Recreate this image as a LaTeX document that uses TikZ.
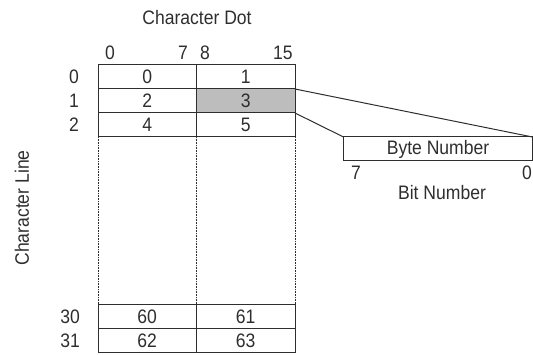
\documentclass[tikz,border=0pt]{standalone}
\usepackage{fontspec}
\setmainfont{Liberation Sans}[FakeStretch=0.9]
\usetikzlibrary{calc}
\definecolor{ink}{HTML}{2E2E2E}
\definecolor{shade}{HTML}{BDBDBD}
\tikzset{
  cell/.style={draw=ink, line width=1pt, minimum width=98.5pt, minimum height=24pt,
    inner sep=0pt, outer sep=0pt, text=ink},
  lbl/.style={text=ink, inner sep=0pt}
}

\begin{document}
\begin{tikzpicture}[x=1pt, y=-1pt, font=\fontsize{19.5}{21}\selectfont]
  \useasboundingbox (0,0) rectangle (533,355);
  % header
  \node[lbl] (dottitle) at (197,18) {Character Dot};
  \node[lbl] (bit0) at (110,53) {0};
  \node[lbl] (bit7) at (183,53) {7};
  \node[lbl] (bit8) at (205,53) {8};
  \node[lbl] (bit15) at (283,53) {15};
  \node[lbl, rotate=90] (linetitle) at (22,208) {Character Line};
  % row labels
  \node[lbl, anchor=east] (row0) at (79,77) {0};
  \node[lbl, anchor=east] (row1) at (79,101) {1};
  \node[lbl, anchor=east] (row2) at (79,125) {2};
  \node[lbl, anchor=east] (row30) at (80,317) {30};
  \node[lbl, anchor=east] (row31) at (80,341) {31};
  % byte cells
  \node[cell] (c0) at (147.25,77) {0};
  \node[cell] (c1) at (245.75,77) {1};
  \node[cell] (c2) at (147.25,101) {2};
  \node[cell, fill=shade] (c3) at (245.75,101) {3};
  \node[cell] (c4) at (147.25,125) {4};
  \node[cell] (c5) at (245.75,125) {5};
  \node[cell] (c60) at (147.25,317) {60};
  \node[cell] (c61) at (245.75,317) {61};
  \node[cell] (c62) at (147.25,341) {62};
  \node[cell] (c63) at (245.75,341) {63};
  % omitted rows
  \draw[ink, densely dotted, line width=0.6pt] (c4.south west) -- (c60.north west);
  \draw[ink, densely dotted, line width=0.6pt] (c4.south east) -- (c60.north east);
  \draw[ink, densely dotted, line width=0.6pt] (c5.south east) -- (c61.north east);
  % byte detail
  \node[cell, minimum width=189pt] (byte) at (438,149) {Byte Number};
  \draw[ink, line width=1pt] (c3.north east) -- (byte.north east);
  \draw[ink, line width=1pt] (c3.south east) -- (byte.north west);
  \node[lbl] (msb) at (356,173) {7};
  \node[lbl] (lsb) at (527,173) {0};
  \node[lbl] (bittitle) at (442,193) {Bit Number};
\end{tikzpicture}
\end{document}
